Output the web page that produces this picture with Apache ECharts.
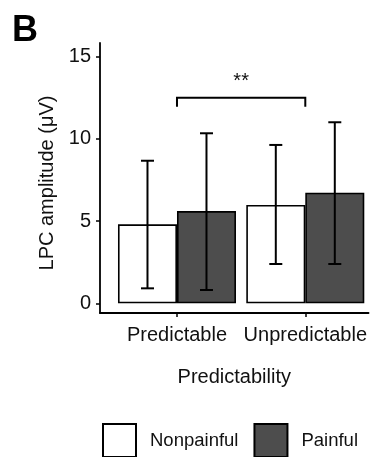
<!DOCTYPE html>
<html>
<head>
<meta charset="utf-8">
<script src="https://cdn.jsdelivr.net/npm/echarts@6/dist/echarts.min.js"></script>
<style>html,body{margin:0;padding:0;background:#fff;}#c{width:370px;height:457px;}</style>
</head>
<body>
<div id="c"></div>
<script>
// ---- data ----
const categories = ['Predictable', 'Unpredictable'];
const catPos = [1, 2];
const seriesNames = ['Nonpainful', 'Painful'];
const nonpainfulMean = [4.8, 5.98];
const painfulMean = [5.61, 6.73];
const nonpainfulLow = [0.91, 2.39];
const nonpainfulHigh = [8.67, 9.63];
const painfulLow = [0.81, 2.39];
const painfulHigh = [10.34, 11.01];
const yTicks = [0, 5, 10, 15];
const bracketX = [1, 2];
const bracketY = [12.5, 11.95];
const bracketLabel = '**';

const FONT = '"Liberation Sans", Arial, sans-serif';
const FS = 20;
const BAR_W = 59;
const OFF = BAR_W / 2;

const chart = echarts.init(document.getElementById('c'), null, {renderer: 'canvas'});

function errData(lo, hi) { return catPos.map((x, i) => [x, lo[i], hi[i]]); }

function errRender(offset) {
  return function (params, api) {
    const x = api.value(0);
    const top = api.coord([x, api.value(2)]);
    const bot = api.coord([x, api.value(1)]);
    const cx = top[0] + offset;
    const cap = 6.5;
    const st = {stroke: '#000', lineWidth: 2};
    return {
      type: 'group',
      children: [
        {type: 'line', shape: {x1: cx, y1: top[1], x2: cx, y2: bot[1]}, style: st},
        {type: 'line', shape: {x1: cx - cap, y1: top[1], x2: cx + cap, y2: top[1]}, style: st},
        {type: 'line', shape: {x1: cx - cap, y1: bot[1], x2: cx + cap, y2: bot[1]}, style: st}
      ]
    };
  };
}

const option = {
  animation: false,
  backgroundColor: '#fff',
  textStyle: {fontFamily: FONT},
  title: {
    text: 'B', left: 7, top: 8,
    textStyle: {fontSize: 36, fontWeight: 'bold', color: '#000', fontFamily: FONT}
  },
  grid: {left: 100, right: 0, top: 43, height: 270, containLabel: false},
  legend: {
    data: seriesNames,
    left: 102, top: 423, width: 268, padding: 0,
    icon: 'rect', itemWidth: 33, itemHeight: 33, itemGap: 15,
    textStyle: {fontSize: 18.5, color: '#111', fontFamily: FONT, padding: [0, 0, 0, 9]}
  },
  xAxis: {
    type: 'value', min: 0.4, max: 2.493,
    name: 'Predictability', nameLocation: 'middle', nameGap: 54,
    nameTextStyle: {fontSize: FS, color: '#111', fontFamily: FONT, padding: [0, 0, 0, 0]},
    axisLine: {show: true, onZero: false, lineStyle: {color: '#000', width: 1.8}},
    axisTick: {show: true, length: 4, lineStyle: {color: '#000', width: 1.5}, customValues: catPos},
    axisLabel: {
      fontSize: FS, color: '#111', margin: 12, fontFamily: FONT,
      customValues: catPos,
      formatter: v => categories[catPos.indexOf(v)] || ''
    },
    splitLine: {show: false}
  },
  yAxis: {
    type: 'value', min: -0.59, max: 15.83,
    name: 'LPC amplitude (μV)', nameLocation: 'middle', nameGap: 43, nameRotate: 90,
    nameTextStyle: {fontSize: FS, color: '#111', fontFamily: FONT, padding: [0, 10, 0, 0]},
    axisLine: {show: true, onZero: false, lineStyle: {color: '#000', width: 1.8}},
    axisTick: {show: true, length: 4, lineStyle: {color: '#000', width: 1.5}, customValues: yTicks},
    axisLabel: {fontSize: FS, color: '#111', margin: 9, fontFamily: FONT, customValues: yTicks},
    splitLine: {show: false}
  },
  series: [
    {
      name: seriesNames[0], type: 'bar',
      data: catPos.map((x, i) => [x, nonpainfulMean[i]]),
      barWidth: BAR_W, barGap: '0%',
      itemStyle: {color: '#ffffff', borderColor: '#000', borderWidth: 1.6}
    },
    {
      name: seriesNames[1], type: 'bar',
      data: catPos.map((x, i) => [x, painfulMean[i]]),
      barWidth: BAR_W, barGap: '0%',
      itemStyle: {color: '#4d4d4d', borderColor: '#000', borderWidth: 1.6}
    },
    {
      type: 'custom', renderItem: errRender(-OFF), data: errData(nonpainfulLow, nonpainfulHigh),
      z: 5, silent: true
    },
    {
      type: 'custom', renderItem: errRender(OFF), data: errData(painfulLow, painfulHigh),
      z: 5, silent: true
    },
    {
      type: 'custom', z: 5, silent: true,
      data: [[bracketX[0], bracketX[1], bracketY[0], bracketY[1]]],
      renderItem: function (params, api) {
        const a = api.coord([api.value(0), api.value(2)]);
        const b = api.coord([api.value(1), api.value(2)]);
        const a2 = api.coord([api.value(0), api.value(3)]);
        const b2 = api.coord([api.value(1), api.value(3)]);
        const st = {stroke: '#000', lineWidth: 2, fill: null};
        return {
          type: 'group',
          children: [
            {type: 'polyline', shape: {points: [a2, a, b, b2]}, style: st},
            {type: 'text', x: (a[0] + b[0]) / 2, y: a[1] - 16,
             style: {text: bracketLabel, fontSize: FS, fontFamily: FONT, fill: '#111', align: 'center', verticalAlign: 'middle'}}
          ]
        };
      }
    }
  ]
};
chart.setOption(option);
</script>
</body>
</html>
